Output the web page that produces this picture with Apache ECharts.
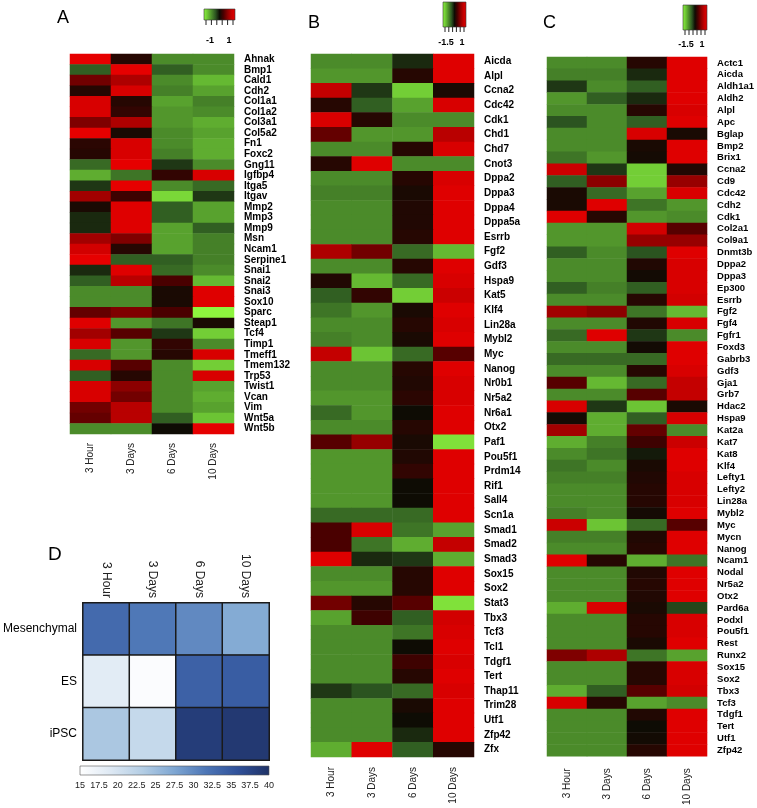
<!DOCTYPE html>
<html><head><meta charset="utf-8">
<script src="https://cdn.jsdelivr.net/npm/echarts@6/dist/echarts.min.js"></script>
<style>html,body{margin:0;padding:0;background:#fff}#c{width:757px;height:808px}</style>
</head><body><div id="c"></div><script>
const timepoints = ['3 Hour','3 Days','6 Days','10 Days'];

const genesA = ['Ahnak','Bmp1','Cald1','Cdh2','Col1a1','Col1a2','Col3a1','Col5a2','Fn1','Foxc2','Gng11','Igfbp4','Itga5','Itgav','Mmp2','Mmp3','Mmp9','Msn','Ncam1','Serpine1','Snai1','Snai2','Snai3','Sox10','Sparc','Steap1','Tcf4','Timp1','Tmeff1','Tmem132','Trp53','Twist1','Vcan','Vim','Wnt5a','Wnt5b'];
const valuesA = [
[1,0.1,-0.5,-0.5],[-0.3,1,-0.3,-0.5],[0.4,0.65,-0.5,-0.7],[0.1,0.9,-0.45,-0.6],[0.9,0.1,-0.6,-0.45],
[0.9,0.15,-0.55,-0.5],[0.45,0.65,-0.55,-0.65],[1,0.05,-0.5,-0.6],[0.12,0.9,-0.5,-0.65],[0.1,0.9,-0.45,-0.65],
[-0.35,1,-0.15,-0.5],[-0.65,-0.4,0.15,0.9],[-0.15,1,-0.5,-0.35],[0.6,0.2,-0.85,-0.15],[0.05,0.95,-0.3,-0.6],
[-0.1,0.95,-0.3,-0.6],[-0.1,0.95,-0.6,-0.3],[0.6,0.45,-0.6,-0.45],[0.85,0.1,-0.6,-0.45],[1,-0.3,-0.3,-0.45],
[-0.1,0.95,-0.35,-0.5],[-0.3,0.7,0.25,-0.7],[-0.5,-0.5,0.05,0.95],[-0.5,-0.5,0.05,0.95],[0.35,0.45,0.25,-1],
[0.95,-0.55,-0.4,0.05],[0.6,0.3,-0.15,-0.8],[0.9,-0.55,0.15,-0.5],[-0.35,-0.55,0.1,0.9],[0.9,0.3,-0.5,-0.8],
[-0.3,0.1,-0.5,0.9],[0.9,0.5,-0.5,-0.6],[0.9,0.4,-0.5,-0.65],[0.4,0.7,-0.5,-0.6],[0.35,0.7,-0.3,-0.75],[-0.5,-0.5,0,1]
];

const genesB = ['Aicda','Alpl','Ccna2','Cdc42','Cdk1','Chd1','Chd7','Cnot3','Dppa2','Dppa3','Dppa4','Dppa5a','Esrrb','Fgf2','Gdf3','Hspa9','Kat5','Klf4','Lin28a','Mybl2','Myc','Nanog','Nr0b1','Nr5a2','Nr6a1','Otx2','Paf1','Pou5f1','Prdm14','Rif1','Sall4','Scn1a','Smad1','Smad2','Smad3','Sox15','Sox2','Stat3','Tbx3','Tcf3','Tcl1','Tdgf1','Tert','Thap11','Trim28','Utf1','Zfp42','Zfx'];
const valuesB = [
[-0.5,-0.5,-0.1,0.95],[-0.55,-0.55,0.1,0.95],[0.75,-0.15,-0.8,0.05],[0.1,-0.3,-0.6,0.9],[0.9,0.1,-0.5,-0.5],
[0.35,-0.55,-0.55,0.7],[-0.5,-0.5,0.1,0.9],[0.1,0.95,-0.5,-0.5],[-0.5,-0.5,0.1,0.9],[-0.45,-0.45,0.05,0.95],
[-0.5,-0.5,0.08,0.95],[-0.5,-0.5,0.08,0.95],[-0.5,-0.5,0.1,0.95],[0.65,0.4,-0.35,-0.7],[-0.5,-0.5,0.1,0.95],
[0.08,-0.7,-0.35,0.9],[-0.3,0.15,-0.8,0.8],[-0.4,-0.55,0.05,0.95],[-0.5,-0.5,0.1,0.9],[-0.45,-0.5,0.05,0.95],
[0.75,-0.75,-0.35,0.3],[-0.5,-0.5,0.1,0.95],[-0.5,-0.5,0.08,0.9],[-0.55,-0.55,0.12,0.9],[-0.35,-0.55,0,0.95],
[-0.5,-0.5,0.1,0.95],[0.3,0.55,0.05,-0.9],[-0.55,-0.55,0.08,0.95],[-0.55,-0.55,0.15,0.95],[-0.55,-0.55,0,0.95],
[-0.55,-0.55,0,0.95],[-0.35,-0.35,-0.35,0.95],[0.25,0.9,-0.4,-0.6],[0.25,-0.4,-0.65,0.75],[0.95,-0.1,-0.15,-0.65],
[-0.5,-0.5,0.1,0.95],[-0.55,-0.55,0.1,0.95],[0.4,0.1,0.3,-0.9],[-0.6,0.2,-0.3,0.85],[-0.5,-0.5,-0.4,0.9],
[-0.5,-0.5,0,0.95],[-0.5,-0.5,0.2,0.9],[-0.5,-0.5,0.1,0.95],[-0.15,-0.25,-0.35,0.9],[-0.5,-0.5,0.05,0.95],
[-0.5,-0.5,0,0.95],[-0.5,-0.5,-0.1,0.95],[-0.65,0.95,-0.3,0.1]
];

const genesC = ['Actc1','Aicda','Aldh1a1','Aldh2','Alpl','Apc','Bglap','Bmp2','Brix1','Ccna2','Cd9','Cdc42','Cdh2','Cdk1','Col2a1','Col9a1','Dnmt3b','Dppa2','Dppa3','Ep300','Esrrb','Fgf2','Fgf4','Fgfr1','Foxd3','Gabrb3','Gdf3','Gja1','Grb7','Hdac2','Hspa9','Kat2a','Kat7','Kat8','Klf4','Lefty1','Lefty2','Lin28a','Mybl2','Myc','Mycn','Nanog','Ncam1','Nodal','Nr5a2','Otx2','Pard6a','Podxl','Pou5f1','Rest','Runx2','Sox15','Sox2','Tbx3','Tcf3','Tdgf1','Tert','Utf1','Zfp42'];
const valuesC = [
[-0.5,-0.5,0.1,0.95],[-0.45,-0.45,-0.1,0.95],[-0.15,-0.5,-0.3,0.95],[-0.55,-0.3,-0.1,0.95],[-0.5,-0.5,0.1,0.9],
[-0.25,-0.5,-0.3,0.95],[-0.5,-0.5,0.9,0.05],[-0.5,-0.5,0.05,0.95],[-0.4,-0.55,0.03,0.95],[0.8,-0.15,-0.8,0.08],
[-0.3,0.5,-0.8,0.55],[0.05,-0.35,-0.6,0.9],[0.05,0.95,-0.4,-0.55],[0.95,0.1,-0.55,-0.5],[-0.55,-0.55,0.85,0.3],
[-0.55,-0.55,0.55,0.55],[-0.3,-0.5,-0.25,0.95],[-0.5,-0.5,0.08,0.9],[-0.5,-0.5,0.02,0.9],[-0.3,-0.45,-0.3,0.9],
[-0.5,-0.5,0.1,0.85],[0.6,0.5,-0.4,-0.7],[-0.5,-0.5,0.08,0.9],[-0.35,0.95,-0.15,-0.5],[-0.5,-0.5,0.02,0.95],
[-0.35,-0.35,-0.35,0.95],[-0.5,-0.5,0.1,0.9],[0.3,-0.7,-0.35,0.75],[-0.5,-0.5,0.3,0.75],[0.9,-0.15,-0.75,0.05],
[0.03,-0.65,-0.3,0.9],[0.6,-0.65,0.35,-0.5],[-0.65,-0.45,0.2,0.8],[-0.5,-0.4,-0.05,0.95],[-0.4,-0.5,0.05,0.95],
[-0.45,-0.45,0.08,0.9],[-0.5,-0.5,0.1,0.9],[-0.5,-0.5,0.1,0.9],[-0.45,-0.5,0.03,0.95],[0.8,-0.75,-0.35,0.3],
[-0.45,-0.45,0.08,0.95],[-0.5,-0.5,0.1,0.95],[0.95,0.1,-0.65,-0.4],[-0.5,-0.5,0.08,0.95],[-0.5,-0.5,0.1,0.95],
[-0.5,-0.5,0.08,0.95],[-0.65,0.9,0.05,-0.2],[-0.5,-0.5,0.1,0.9],[-0.5,-0.5,0.1,0.9],[-0.5,-0.5,0.05,0.95],
[0.45,0.65,-0.4,-0.6],[-0.5,-0.5,0.1,0.9],[-0.5,-0.5,0.1,0.9],[-0.65,-0.3,0.3,0.85],[0.9,0.1,-0.6,-0.5],
[-0.5,-0.5,0.08,0.95],[-0.5,-0.5,0,0.95],[-0.5,-0.5,0.02,0.95],[-0.5,-0.5,0.1,0.95]
];

const groupsD = ['Mesenchymal','ES','iPSC'];
const valuesD = [
[33,31.5,30,27],
[18.5,15.5,34,34.5],
[24,21.5,38.5,39]
];
const scaleD = [15,40];
const scaleGR = [-1,1];

const grColors = ['#8ef53e','#6cc434','#4b8b2a','#2b5420','#0e0c04','#4a0000','#8c0000','#c40000','#e60000'];
const blueColors = ['#ffffff','#dde8f3','#b3cde4','#7ea6d2','#4d76b6','#30519a','#1f3266'];

function toData(vals){const d=[];vals.forEach((row,i)=>row.forEach((v,j)=>d.push([j,i,v])));return d;}
function grad(colors){return new echarts.graphic.LinearGradient(0,0,1,0,colors.map((c,i)=>({offset:i/(colors.length-1),color:c})));}

const FF = 'Liberation Sans, Arial, sans-serif';
const grids = [
  {left:70, top:54, width:164, height:380},
  {left:311, top:54, width:163, height:703},
  {left:547, top:57, width:162, height:700},
  {left:80, top:603, width:189, height:157},
  {left:80, top:766, width:189, height:9}
];
function catX(gi, fs, pos, margin){
  return {type:'category', gridIndex:gi, data:timepoints, position:pos||'bottom',
    axisLine:{show:false}, axisTick:{show:false}, splitLine:{show:false},
    axisLabel:{rotate:90, interval:0, fontSize:fs, color:'#222', fontFamily:FF, margin:margin}};
}
function catY(gi, data, fs, pos, bold, margin){
  return {type:'category', gridIndex:gi, data:data, inverse:true, position:pos,
    axisLine:{show:false}, axisTick:{show:false}, splitLine:{show:false},
    axisLabel:{interval:0, fontSize:fs, fontWeight:bold?'bold':'normal', color:'#000', fontFamily:FF, margin:margin}};
}

function colorbar(x,y,w,h,labels){
  const els=[{type:'rect', shape:{x:x,y:y,width:w,height:h}, style:{fill:grad(grColors.slice(0)), stroke:'#333', lineWidth:0.6}}];
  for(let i=0;i<6;i++){
    const tx = x+2+i*(w-4)/5;
    els.push({type:'line', shape:{x1:tx,y1:y+h,x2:tx,y2:y+h+5}, style:{stroke:'#222', lineWidth:1}});
  }
  labels.forEach(l=>els.push({type:'text', x:l[0], y:l[1], style:{text:l[2], font:'bold 9px '+FF, fill:'#000', align:'center', verticalAlign:'middle'}}));
  return els;
}
const graphics = [
  {type:'text', x:57, y:18, style:{text:'A', font:'18px '+FF, fill:'#000', verticalAlign:'middle'}},
  {type:'text', x:308, y:23, style:{text:'B', font:'18px '+FF, fill:'#000', verticalAlign:'middle'}},
  {type:'text', x:543, y:23, style:{text:'C', font:'18px '+FF, fill:'#000', verticalAlign:'middle'}},
  {type:'text', x:48, y:555, style:{text:'D', font:'19px '+FF, fill:'#000', verticalAlign:'middle'}},
  ...colorbar(204,9,31,11,[[210,41,'-1'],[229,41,'1']]),
  ...colorbar(443,2,23,25,[[446,43,'-1.5'],[462,43,'1']]),
  ...colorbar(683,5,24,25,[[686,45,'-1.5'],[702,45,'1']]),
  {type:'rect', shape:{x:80,y:766,width:189,height:9}, style:{fill:grad(blueColors), stroke:'#555', lineWidth:0.6}}
];

const option = {
  animation:false,
  backgroundColor:'#fff',
  grid: grids,
  xAxis:[
    catX(0,10,'bottom',9), catX(1,10,'bottom',10), catX(2,10,'bottom',12), catX(3,12,'top',5),
    {type:'value', gridIndex:4, min:scaleD[0], max:scaleD[1], interval:2.5, axisLine:{show:false}, axisTick:{show:false}, splitLine:{show:false},
     axisLabel:{fontSize:9, color:'#222', fontFamily:FF, margin:6, showMinLabel:true, showMaxLabel:true}}
  ],
  yAxis:[
    catY(0,genesA,10,'right',true,10), catY(1,genesB,10,'right',true,10), catY(2,genesC,9.5,'right',true,10),
    catY(3,groupsD,12,'left',false,6),
    {type:'value', gridIndex:4, show:false}
  ],
  visualMap:[
    {type:'continuous', show:false, min:scaleGR[0], max:scaleGR[1], seriesIndex:[0,1,2], inRange:{color:grColors}},
    {type:'continuous', show:false, min:scaleD[0], max:scaleD[1], seriesIndex:[3], inRange:{color:blueColors}}
  ],
  series:[
    {type:'heatmap', xAxisIndex:0, yAxisIndex:0, data:toData(valuesA), itemStyle:{borderWidth:0}},
    {type:'heatmap', xAxisIndex:1, yAxisIndex:1, data:toData(valuesB), itemStyle:{borderWidth:0}},
    {type:'heatmap', xAxisIndex:2, yAxisIndex:2, data:toData(valuesC), itemStyle:{borderWidth:0}},
    {type:'heatmap', xAxisIndex:3, yAxisIndex:3, data:toData(valuesD), itemStyle:{borderColor:'#1a1a1a', borderWidth:1.5}}
  ],
  graphic: graphics
};
const chart = echarts.init(document.getElementById('c'));
chart.setOption(option);
</script></body></html>
